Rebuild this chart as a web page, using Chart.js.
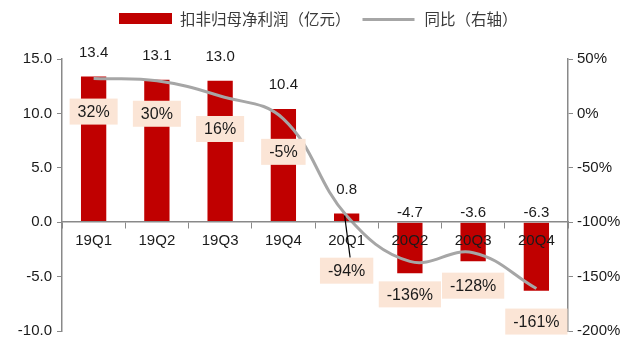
<!DOCTYPE html>
<html><head><meta charset="utf-8">
<script src="https://cdn.jsdelivr.net/npm/chart.js@4"></script>
<style>html,body{margin:0;padding:0;background:#fff}canvas{display:block}</style>
</head><body><canvas id="c" width="637" height="345"></canvas>
<script>
const categories = ['19Q1','19Q2','19Q3','19Q4','20Q1','20Q2','20Q3','20Q4'];
const profit = [13.4, 13.1, 13.0, 10.4, 0.8, -4.7, -3.6, -6.3];
const yoy = [32, 30, 16, -5, -94, -136, -128, -161];
const leftTicks = [-10, -5, 0, 5, 10, 15];
const rightTicks = [-200, -150, -100, -50, 0, 50];
const seriesNames = ['扣非归母净利润（亿元）', '同比（右轴）'];

const RED = '#C00000', GREY = '#A6A6A6', AXIS = '#898989', TXT = '#1a1a1a';
const NUMFONT = '"Liberation Sans", Arial, sans-serif';
const CJKFONT = '"Noto Sans CJK SC", sans-serif';

const labelPlugin = {
  id: 'labels',
  afterDraw(chart) {
    const ctx = chart.ctx;
    const yS = chart.scales.y;
    const zero = yS.getPixelForValue(0);
    ctx.save();
    // bar value labels
    ctx.font = '15px ' + NUMFONT;
    ctx.fillStyle = TXT;
    ctx.textAlign = 'center';
    ctx.textBaseline = 'middle';
    const bars = chart.getDatasetMeta(0).data;
    bars.forEach((b, i) => {
      const v = profit[i];
      const y = v >= 0 ? b.y - 24 : zero - 9;
      ctx.fillText(v.toFixed(1), b.x, y);
    });
    // yoy labels in boxes
    const pts = chart.getDatasetMeta(1).data;
    ctx.font = '16px ' + NUMFONT;
    pts.forEach((p, i) => {
      const txt = yoy[i] + '%';
      const off = i === 4 ? 55 : 33;
      const cy = p.y + off;
      const w = ctx.measureText(txt).width + 16, h = 26;
      if (i === 4) {
        ctx.strokeStyle = '#000';
        ctx.lineWidth = 1.2;
        ctx.beginPath();
        ctx.moveTo(p.x - 2, p.y);
        ctx.lineTo(p.x + 3.5, cy - h / 2);
        ctx.stroke();
      }
      ctx.fillStyle = '#FBE5D6';
      ctx.fillRect(p.x - w / 2, cy - h / 2, w, h);
      ctx.fillStyle = TXT;
      ctx.fillText(txt, p.x, cy + 1);
    });
    // legend
    ctx.textAlign = 'left';
    ctx.font = '15.5px ' + CJKFONT;
    ctx.fillStyle = RED;
    ctx.fillRect(119, 13, 53, 11);
    ctx.fillStyle = '#3a3a3a';
    let x = 180;
    ctx.fillText(seriesNames[0], x, 19);
    x += ctx.measureText(seriesNames[0]).width + 12;
    ctx.strokeStyle = GREY;
    ctx.lineWidth = 3;
    ctx.beginPath();
    ctx.moveTo(x, 19.5);
    ctx.lineTo(x + 52, 19.5);
    ctx.stroke();
    x += 62;
    ctx.fillText(seriesNames[1], x, 19);
    ctx.restore();
  }
};

new Chart(document.getElementById('c'), {
  data: {
    labels: categories,
    datasets: [
      { type: 'bar', label: seriesNames[0], data: profit, yAxisID: 'y', backgroundColor: RED,
        barPercentage: 0.4, categoryPercentage: 1, order: 2 },
      { type: 'line', label: seriesNames[1], data: yoy, yAxisID: 'y1', borderColor: GREY,
        borderWidth: 3, tension: 0.4, pointRadius: 0, fill: false, order: 1 }
    ]
  },
  options: {
    responsive: false,
    animation: false,
    devicePixelRatio: 1,
    layout: { padding: { top: 59, bottom: 14, left: 0, right: 0 } },
    plugins: { legend: { display: false }, tooltip: { enabled: false } },
    scales: {
      x: {
        type: 'category',
        position: { y: 0 },
        offset: true,
        grid: { offset: true, drawOnChartArea: false, drawTicks: true, tickLength: 6, color: AXIS, z: 1 },
        border: { color: AXIS, width: 1.5, z: 1 },
        ticks: { font: { size: 15, family: NUMFONT }, color: TXT, padding: 4, maxRotation: 0, autoSkip: false, z: 1 }
      },
      y: {
        position: 'left',
        min: -10, max: 15,
        afterBuildTicks: s => { s.ticks = leftTicks.map(v => ({ value: v })); },
        afterFit: s => { s.width = 62; },
        grid: { drawOnChartArea: false, tickLength: 5, color: AXIS },
        border: { color: AXIS, width: 1.5 },
        ticks: { font: { size: 15, family: NUMFONT }, color: TXT, padding: 5, callback: v => Number(v).toFixed(1) }
      },
      y1: {
        position: 'right',
        min: -200, max: 50,
        afterBuildTicks: s => { s.ticks = rightTicks.map(v => ({ value: v })); },
        afterFit: s => { s.width = 69; },
        grid: { drawOnChartArea: false, tickLength: 5, color: AXIS },
        border: { color: AXIS, width: 1.5 },
        ticks: { font: { size: 15, family: NUMFONT }, color: TXT, padding: 4, callback: v => v + '%' }
      }
    }
  },
  plugins: [labelPlugin]
});
</script>
</body></html>
